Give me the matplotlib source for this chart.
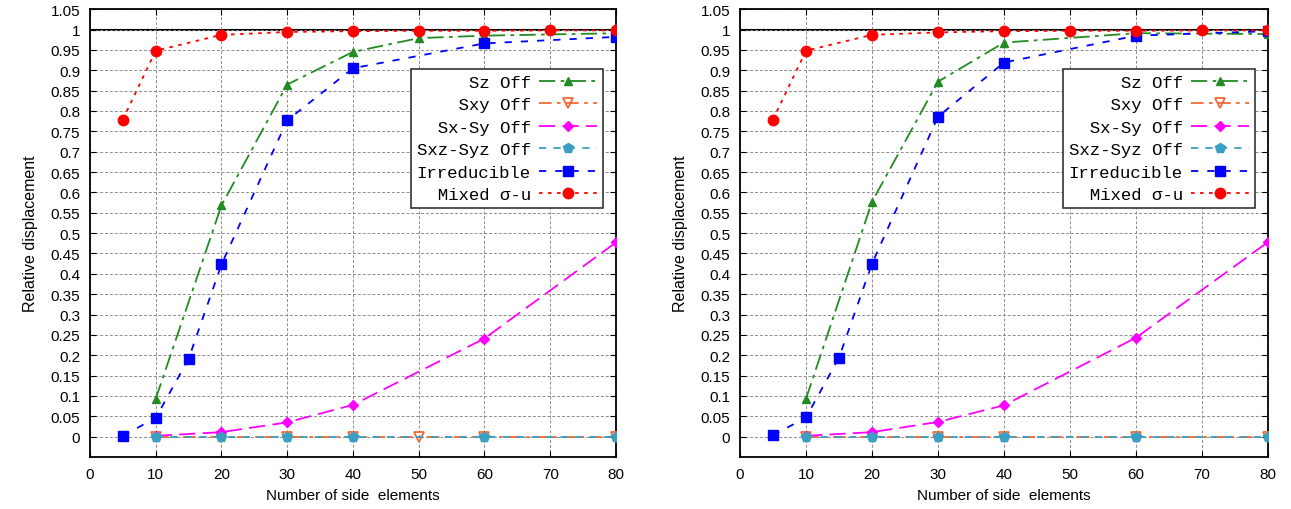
import matplotlib
matplotlib.use("Agg")
import matplotlib.pyplot as plt
import numpy as np

plt.rcParams["font.family"] = ["Liberation Sans", "DejaVu Sans"]

# ---- data ----
x_sz_left = [10, 20, 30, 40, 50, 60, 80]
sz_left = [0.093, 0.568, 0.865, 0.945, 0.979, 0.985, 0.991]
x_sz_right = [10, 20, 30, 40, 60, 80]
sz_right = [0.093, 0.577, 0.872, 0.968, 0.991, 0.989]

x_sxy_left = [10, 20, 30, 40, 50, 60, 80]
sxy_left = [0, 0, 0, 0, 0, 0, 0]
x_sxy_right = [10, 20, 30, 40, 60, 80]
sxy_right = [0, 0, 0, 0, 0, 0]

x_sxsy = [10, 20, 30, 40, 60, 80]
sxsy_left = [0.002, 0.011, 0.035, 0.078, 0.241, 0.477]
sxsy_right = [0.002, 0.011, 0.036, 0.077, 0.243, 0.478]

x_sxz = [10, 20, 30, 40, 60, 80]
sxz_left = [0, 0, 0, 0, 0, 0]
sxz_right = [0, 0, 0, 0, 0, 0]

x_irr = [5, 10, 15, 20, 30, 40, 60, 80]
irr_left = [0.002, 0.046, 0.191, 0.423, 0.777, 0.905, 0.966, 0.982]
irr_right = [0.003, 0.047, 0.194, 0.425, 0.786, 0.919, 0.985, 0.996]

x_mix = [5, 10, 20, 30, 40, 50, 60, 70, 80]
mix_left = [0.779, 0.948, 0.987, 0.994, 0.996, 0.997, 0.997, 0.998, 0.998]
mix_right = [0.779, 0.948, 0.987, 0.993, 0.996, 0.997, 0.997, 0.998, 0.998]

labels = ["Sz Off", "Sxy Off", "Sx-Sy Off", "Sxz-Syz Off", "Irreducible", "Mixed σ-u"]

x_ticks = np.arange(0, 81, 10)
y_ticks = np.round(np.arange(0, 1.051, 0.05), 2)


def draw_panel(ax, sz, sxy, sxsy, sxz, irr, mix):
    (x_sz, y_sz), (x_sxy, y_sxy) = sz, sxy
    lw = 1.3
    ax.axhline(1.0, color="black", lw=1.5, zorder=1)
    ax.plot(x_sz, y_sz, color="#228b22", lw=lw, dashes=(9, 3, 2, 3),
            marker="^", ms=6, label=labels[0], zorder=4)
    ax.plot(x_sxy, y_sxy, color="#f26a35", lw=lw, dashes=(7, 3, 2, 3),
            marker="v", ms=7, mfc="none", mew=1.3, label=labels[1], zorder=3)
    ax.plot(x_sxsy, sxsy, color="#ff00ff", lw=lw, dashes=(9, 4),
            marker="D", ms=5, label=labels[2], zorder=4)
    ax.plot(x_sxz, sxz, color="#3a9fc2", lw=lw, dashes=(4, 4),
            marker="p", ms=7.5, label=labels[3], zorder=4)
    ax.plot(x_irr, irr, color="#0000ff", lw=lw, dashes=(4, 5),
            marker="s", ms=7.5, label=labels[4], zorder=5)
    ax.plot(x_mix, mix, color="#ff0000", lw=lw, dashes=(2, 3),
            marker="o", ms=7.5, label=labels[5], zorder=6)

    ax.set_xlim(0, 80)
    ax.set_ylim(-0.05, 1.05)
    ax.set_xticks(x_ticks)
    ax.set_yticks(y_ticks)
    ax.set_yticklabels([f"{v:g}" for v in y_ticks])
    ax.tick_params(direction="in", length=4, width=0.8, labelsize=11,
                   top=True, right=True, pad=7)
    ax.grid(True, color="#8c8c8c", ls=(0, (3, 2)), lw=0.7)
    for s in ax.spines.values():
        s.set_linewidth(1.3)

    ax.set_xlabel("Number of side  elements", fontsize=11, labelpad=5)
    ax.set_ylabel("Relative displacement", fontsize=11.5, labelpad=9)

    width = max(len(l) for l in labels)
    handles, labs = ax.get_legend_handles_labels()
    leg = ax.legend(handles, [l.rjust(width) for l in labs],
                    loc="upper right", bbox_to_anchor=(0.975, 0.867),
                    markerfirst=False, numpoints=1, handlelength=3.3,
                    handletextpad=0.5, labelspacing=0.42, borderpad=0.35,
                    borderaxespad=0, fancybox=False, framealpha=1,
                    edgecolor="#333333",
                    prop={"family": ["Liberation Mono", "DejaVu Sans Mono"],
                          "size": 12.5})
    leg.get_frame().set_linewidth(1.2)


fig = plt.figure(figsize=(12.91, 5.10), dpi=100)
ax1 = fig.add_axes([0.0697, 0.102, 0.4074, 0.878])
ax2 = fig.add_axes([0.5732, 0.102, 0.409, 0.878])

draw_panel(ax1, (x_sz_left, sz_left), (x_sxy_left, sxy_left),
           sxsy_left, sxz_left, irr_left, mix_left)
draw_panel(ax2, (x_sz_right, sz_right), (x_sxy_right, sxy_right),
           sxsy_right, sxz_right, irr_right, mix_right)

fig.savefig("out.png", dpi=100)
